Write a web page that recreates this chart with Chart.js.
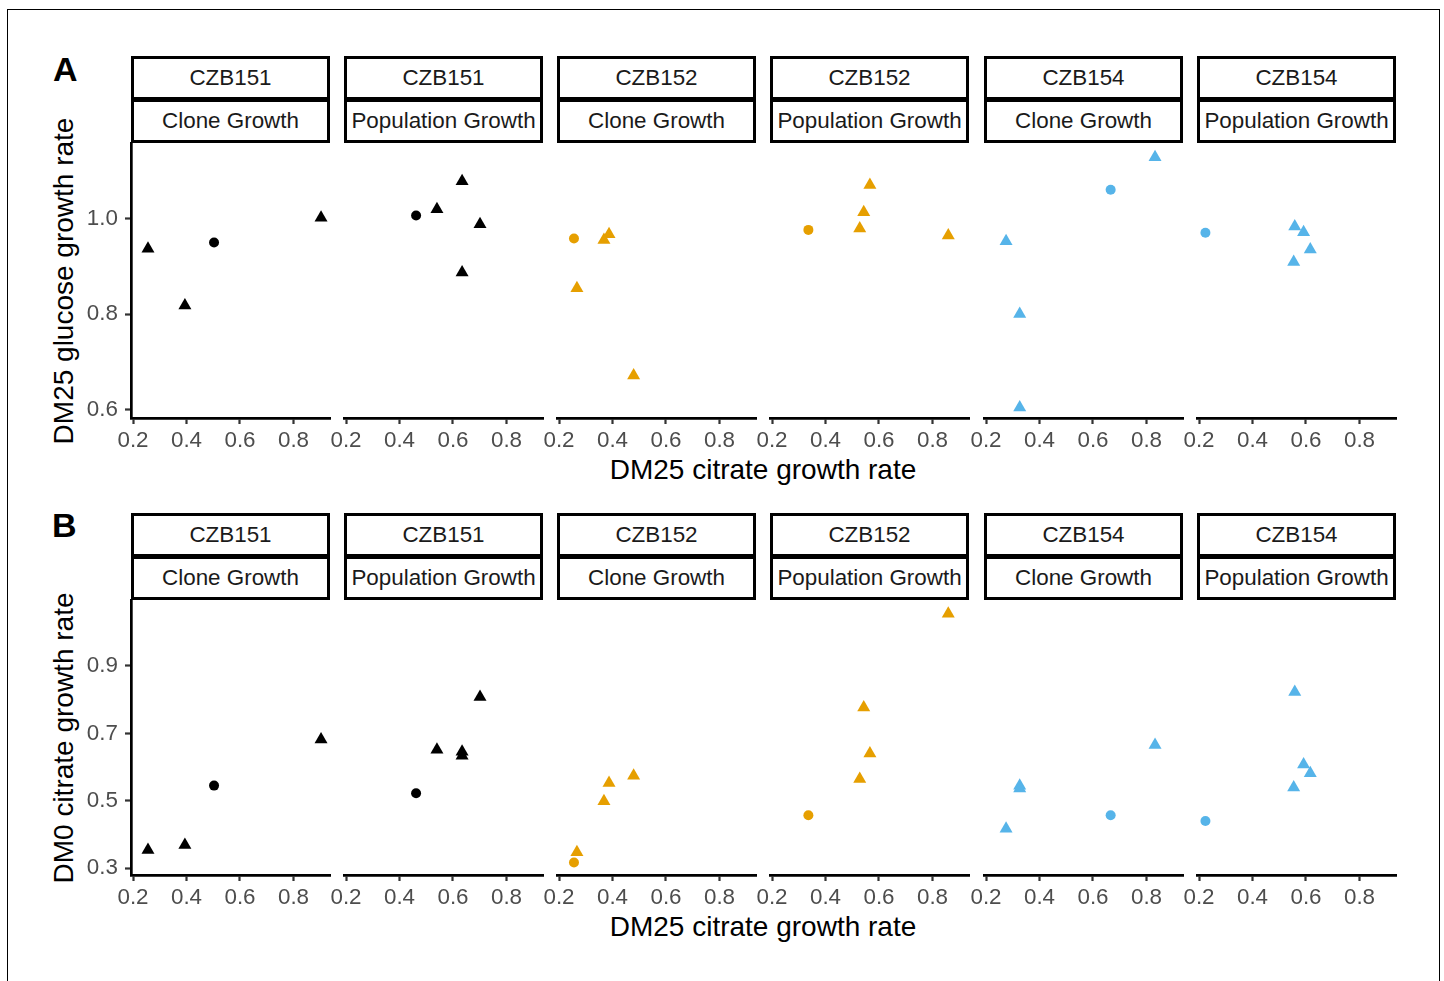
<!DOCTYPE html>
<html>
<head>
<meta charset="utf-8">
<script src="https://cdn.jsdelivr.net/npm/chart.js@4.4.1/dist/chart.umd.min.js"></script>
<style>
  body { margin: 0; background: #fff; }
  #fig { position: relative; width: 1444px; height: 981px; overflow: hidden; font-family: "Liberation Sans", Arial, sans-serif; }
  .frame { position: absolute; left: 7px; top: 9px; width: 1431px; height: 1000px; border: 1px solid #000; }
  .strip { position: absolute; box-sizing: border-box; border: 3px solid #000; background: #fff; color: #1a1a1a;
           font-size: 22.4px; display: flex; align-items: center; justify-content: center; white-space: nowrap; }
  .title { position: absolute; font-size: 28px; line-height: 28px; color: #000; white-space: nowrap; transform: translate(-50%, -50%); }
  .ytitle { transform: translate(-50%, -50%) rotate(-90deg); }
  .tag { position: absolute; font-size: 34px; line-height: 34px; font-weight: bold; color: #000; }
  canvas { position: absolute; }
</style>
</head>
<body>
<div id="fig"><div class="frame"></div></div>
<script>
const strains = ['CZB151', 'CZB151', 'CZB152', 'CZB152', 'CZB154', 'CZB154'];
const growthTypes = ['Clone Growth', 'Population Growth', 'Clone Growth', 'Population Growth', 'Clone Growth', 'Population Growth'];
const xTicks = [0.2, 0.4, 0.6, 0.8];
const glucoseTicks = [0.6, 0.8, 1.0];
const dm0Ticks = [0.3, 0.5, 0.7, 0.9];

// one entry per measured sample: panel index, marker, and the three growth rates
const pointPanel = [0, 0, 0, 0,
                    1, 1, 1, 1, 1,
                    2, 2, 2, 2, 2,
                    3, 3, 3, 3, 3,
                    4, 4, 4, 4, 4,
                    5, 5, 5, 5, 5];
const pointShape = ['triangle', 'triangle', 'circle', 'triangle',
                    'circle', 'triangle', 'triangle', 'triangle', 'triangle',
                    'circle', 'triangle', 'triangle', 'triangle', 'triangle',
                    'circle', 'triangle', 'triangle', 'triangle', 'triangle',
                    'circle', 'triangle', 'triangle', 'triangle', 'triangle',
                    'circle', 'triangle', 'triangle', 'triangle', 'triangle'];
const dm25Citrate = [0.256, 0.394, 0.503, 0.903,
                     0.462, 0.540, 0.634, 0.701, 0.634,
                     0.256, 0.267, 0.368, 0.387, 0.479,
                     0.336, 0.566, 0.543, 0.528, 0.859,
                     0.666, 0.832, 0.275, 0.326, 0.326,
                     0.224, 0.558, 0.591, 0.616, 0.554];
const dm25Glucose = [0.937, 0.818, 0.950, 1.002,
                     1.006, 1.019, 1.078, 0.988, 0.887,
                     0.958, 0.854, 0.955, 0.967, 0.671,
                     0.976, 1.070, 1.013, 0.979, 0.964,
                     1.060, 1.128, 0.952, 0.800, 0.604,
                     0.970, 0.983, 0.971, 0.935, 0.909];
const dm0Citrate = [0.354, 0.369, 0.545, 0.682,
                    0.522, 0.651, 0.645, 0.807, 0.633,
                    0.317, 0.347, 0.498, 0.552, 0.574,
                    0.457, 0.640, 0.776, 0.564, 1.053,
                    0.457, 0.665, 0.417, 0.544, 0.536,
                    0.440, 0.822, 0.607, 0.581, 0.539];

const strainColors = { CZB151: '#000000', CZB152: '#E69F00', CZB154: '#56B4E9' };
const FONT = '"Liberation Sans", Arial, sans-serif';

// layout
const PANEL_LEFT = [131, 344, 557, 770, 984, 1197];
const PANEL_W = 199;
const PAD_L = 60, PAD_R = 20, PAD_T = 20, AXIS_H = 50;
const X_MIN = 0.1925, X_MAX = 0.9365;

const rows = [
  { tag: 'A', ytitle: 'DM25 glucose growth rate', values: dm25Glucose, ticks: glucoseTicks,
    min: 0.582, max: 1.158, stripTop: 56, plotTop: 143, plotBottom: 418, tagTop: 52, xTitleY: 470 },
  { tag: 'B', ytitle: 'DM0 citrate growth rate', values: dm0Citrate, ticks: dm0Ticks,
    min: 0.28, max: 1.094, stripTop: 513, plotTop: 600, plotBottom: 875, tagTop: 508, xTitleY: 927 }
];

const fig = document.getElementById('fig');

function addDiv(cls, text, style) {
  const d = document.createElement('div');
  d.className = cls;
  d.textContent = text;
  Object.assign(d.style, style);
  fig.appendChild(d);
  return d;
}

function tickStyle() {
  return {
    border: { display: true, color: '#000', width: 2.7 },
    grid: { drawOnChartArea: false, drawTicks: true, tickLength: 6, tickColor: '#333', tickWidth: 2.2 }
  };
}

rows.forEach(row => {
  const plotH = row.plotBottom - row.plotTop;

  addDiv('tag', row.tag, { left: (row.tag === 'A' ? 53 : 52) + 'px', top: row.tagTop + 'px' });
  addDiv('title ytitle', row.ytitle, { left: '63.5px', top: (row.plotTop + plotH / 2) + 'px' });
  addDiv('title', 'DM25 citrate growth rate', { left: '763px', top: row.xTitleY + 'px' });

  strains.forEach((strain, i) => {
    const left = PANEL_LEFT[i];
    addDiv('strip', strain, { left: left + 'px', top: row.stripTop + 'px', width: PANEL_W + 'px', height: '44px' });
    addDiv('strip', growthTypes[i], { left: left + 'px', top: (row.stripTop + 43) + 'px', width: PANEL_W + 'px', height: '44px' });

    const canvas = document.createElement('canvas');
    canvas.width = PAD_L + PANEL_W + PAD_R;
    canvas.height = PAD_T + plotH + AXIS_H;
    canvas.style.left = (left - PAD_L) + 'px';
    canvas.style.top = (row.plotTop - PAD_T) + 'px';
    fig.appendChild(canvas);

    const idx = pointPanel.map((p, k) => k).filter(k => pointPanel[k] === i);
    const color = strainColors[strain];
    const datasets = ['circle', 'triangle'].map(shape => ({
      data: idx.filter(k => pointShape[k] === shape).map(k => ({ x: dm25Citrate[k], y: row.values[k] })),
      pointStyle: shape,
      pointRadius: shape === 'circle' ? 5 : 7.5,
      backgroundColor: color,
      borderWidth: 0,
      clip: false
    }));

    // only the first panel of a row shows its y axis; the others keep the same width, hidden
    const first = i === 0;
    new Chart(canvas, {
      type: 'scatter',
      data: { datasets },
      options: {
        responsive: false,
        animation: false,
        devicePixelRatio: 1,
        layout: { padding: { left: 0, right: PAD_R, top: PAD_T, bottom: 0 } },
        plugins: { legend: { display: false }, tooltip: { enabled: false } },
        scales: {
          x: {
            type: 'linear', min: X_MIN, max: X_MAX,
            afterBuildTicks: s => { s.ticks = xTicks.map(v => ({ value: v })); },
            afterFit: s => { s.height = AXIS_H; },
            ...tickStyle(),
            ticks: { color: '#4d4d4d', font: { family: FONT, size: 22.4 }, padding: 3,
                     maxRotation: 0, autoSkip: false, callback: v => Number(v).toFixed(1) }
          },
          y: {
            type: 'linear', display: first, min: row.min, max: row.max,
            afterBuildTicks: s => { s.ticks = row.ticks.map(v => ({ value: v })); },
            afterFit: s => { s.width = PAD_L; },
            ...tickStyle(),
            ticks: { color: '#4d4d4d', font: { family: FONT, size: 22.4 }, padding: 7,
                     autoSkip: false, callback: v => Number(v).toFixed(1) }
          }
        }
      }
    });
  });
});
</script>
</body>
</html>
